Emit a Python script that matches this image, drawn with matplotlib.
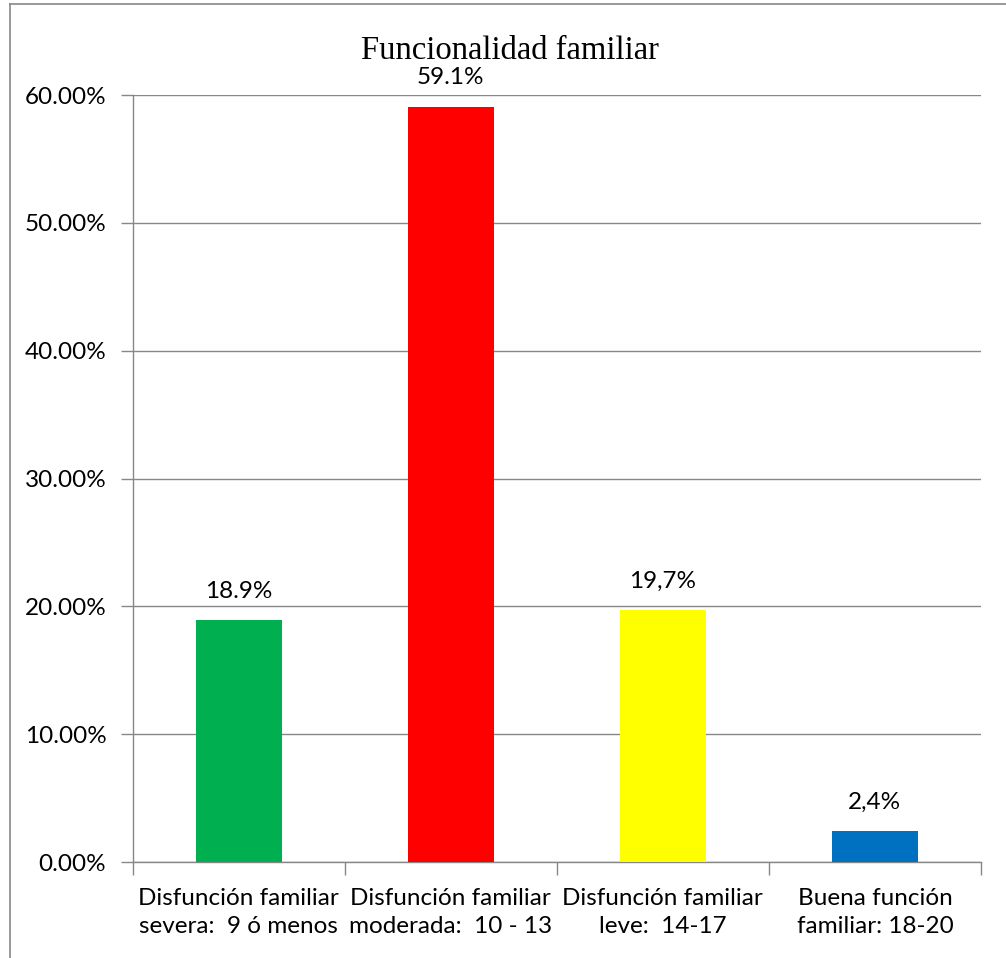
import matplotlib
matplotlib.use("Agg")
import matplotlib.pyplot as plt
from matplotlib.lines import Line2D

# Data
categories = [
    "Disfunción familiar\nsevera:  9 ó menos",
    "Disfunción familiar\nmoderada:  10 - 13",
    "Disfunción familiar\nleve:  14-17",
    "Buena función\nfamiliar: 18-20",
]
values = [18.9, 59.1, 19.7, 2.4]
value_labels = ["18.9%", "59.1%", "19,7%", "2,4%"]
bar_colors = ["#00B050", "#FF0000", "#FFFF00", "#0070C0"]
y_ticks = [0, 10, 20, 30, 40, 50, 60]
y_tick_labels = ["0.00%", "10.00%", "20.00%", "30.00%", "40.00%", "50.00%", "60.00%"]
title = "Funcionalidad familiar"

grey = "#878787"
text_font = "Lato"
fs = 17.5

fig = plt.figure(figsize=(10.06, 9.58), dpi=100)
ax = fig.add_axes([0.1319, 0.1002, 0.8432, 0.8006])

x = list(range(len(categories)))
ax.bar(x, values, width=0.405, color=bar_colors, zorder=3)

ax.set_xlim(-0.5, len(categories) - 0.5)
ax.set_ylim(0, 60)

# Horizontal gridlines
ax.set_yticks(y_ticks)
ax.set_yticklabels(y_tick_labels, fontsize=fs, family=text_font, color="#000000")
ax.yaxis.grid(True, color=grey, linewidth=1.0, zorder=0)
ax.tick_params(axis="y", length=9, width=1.0, color=grey, pad=10)

# Category labels at centers, tick marks at category boundaries
ax.set_xticks(x)
ax.set_xticklabels(categories, fontsize=fs, family=text_font, linespacing=1.4)
ax.set_xticks([i - 0.5 for i in range(len(categories) + 1)], minor=True)
ax.tick_params(axis="x", which="major", length=0, pad=19)
ax.tick_params(axis="x", which="minor", length=9, width=1.0, color=grey)

for side in ["top", "right"]:
    ax.spines[side].set_visible(False)
for side in ["left", "bottom"]:
    ax.spines[side].set_color(grey)
    ax.spines[side].set_linewidth(1.0)

# Value labels above bars
for xi, v, lab in zip(x, values, value_labels):
    ax.annotate(lab, (xi, v), xytext=(0, 13), textcoords="offset points",
                ha="center", va="bottom", fontsize=fs, family=text_font)

fig.text(0.507, 1 - 51 / 958, title, ha="center", va="center",
         fontsize=23.5, family="Liberation Serif")

# Outer chart frame (left and top edges)
fig.add_artist(Line2D([10 / 1006, 10 / 1006], [0, 1 - 4 / 958],
                      transform=fig.transFigure, color=grey, linewidth=1.2))
fig.add_artist(Line2D([10 / 1006, 1], [1 - 4 / 958, 1 - 4 / 958],
                      transform=fig.transFigure, color=grey, linewidth=1.2))

fig.savefig("out.png", dpi=100, facecolor="white")
